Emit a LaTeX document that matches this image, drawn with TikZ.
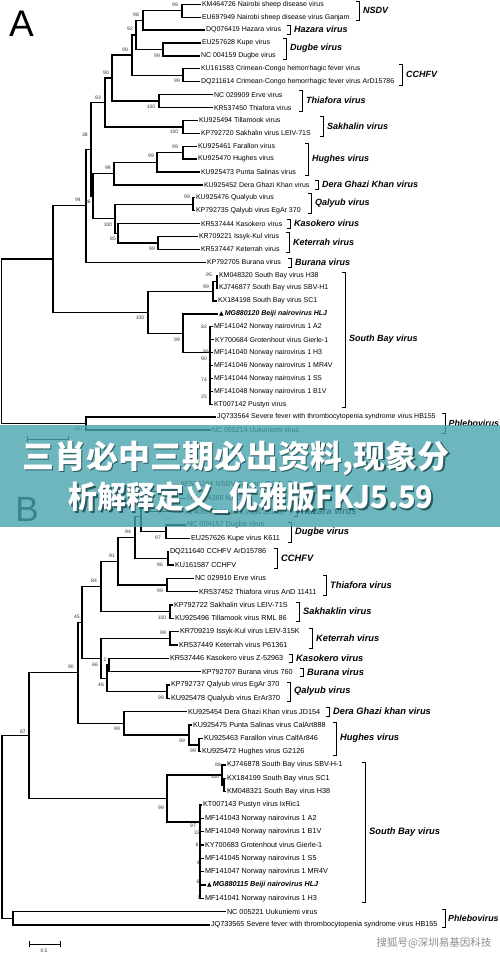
\documentclass[tikz,border=0pt]{standalone}
\usepackage{fontspec}
\setmainfont{Liberation Sans}
\newfontfamily\cjk{Noto Sans CJK SC}
\newfontfamily\symf{DejaVu Sans}
\definecolor{bannerc}{RGB}{72,164,174}
\tikzset{
 br/.style={line width=1.35pt},
 tip/.style={anchor=west,inner sep=1pt,outer sep=0pt,font=\fontsize{7}{8}\selectfont},
 tipb/.style={anchor=west,inner sep=1pt,outer sep=0pt,font=\fontsize{7.25}{8}\selectfont},
 bs/.style={inner sep=0pt,font=\fontsize{5}{6}\selectfont,text=black!80},
 cladelbl/.style={anchor=west,inner sep=0pt,font=\fontsize{9}{10}\selectfont\bfseries\itshape},
 brk/.style={line width=1pt},
}
\newcommand{\cladebr}[5]{%
 \draw[brk] ({#1-3},#2) -- (#1,#2) -- (#1,#3) -- ({#1-3},#3);
 \node[cladelbl] (#5) at ({#1+4},{(#2+#3)/2}) {#4};}
\begin{document}
\begin{tikzpicture}[x=1pt,y=-1pt]
\useasboundingbox (0,0) rectangle (500,954);
% ---------------- Panel A ----------------
\node[font=\fontsize{37}{40}\selectfont,inner sep=0pt] (letA) at (21.5,23.5) {A};
\foreach \i/\x/\t in {
0/201/KM464726 Nairobi sheep disease virus,
1/201/EU697949 Nairobi sheep disease virus Ganjam,
2/205/DQ076419 Hazara virus,
3/201/EU257628 Kupe virus,
4/200/NC 004159 Dugbe virus,
5/200/KU161583 Crimean-Congo hemorrhagic fever virus,
6/200/DQ211614 Crimean-Congo hemorrhagic fever virus ArD15786,
7/213/NC 029909 Erve virus,
8/213/KR537450 Thiafora virus,
9/198/KU925494 Tillamook virus,
10/200/KP792720 Sakhalin virus LEIV-71S,
11/197/KU925461 Farallon virus,
12/197/KU925470 Hughes virus,
13/200/KU925473 Punta Salinas virus,
14/203/KU925452 Dera Ghazi Khan virus,
15/195/KU925476 Qualyub virus,
16/195/KP792735 Qalyub virus EgAr 370,
17/200/KR537444 Kasokero virus,
18/198/KR709221 Issyk-Kul virus,
19/200/KR537447 Keterrah virus,
20/206/KP792705 Burana virus,
21/218/KM048320 South Bay virus H38,
22/218/KJ746877 South Bay virus SBV-H1,
23/217/KX184198 South Bay virus SC1,
25/213/MF141042 Norway nairovirus 1 A2,
26/214/KY700684 Grotenhout virus Gierle-1,
27/213/MF141040 Norway nairovirus 1 H3,
28/213/MF141046 Norway nairovirus 1 MR4V,
29/213/MF141044 Norway nairovirus 1 S5,
30/213/MF141048 Norway nairovirus 1 B1V,
31/213/KT007142 Pustyn virus,
32/216/JQ733564 Severe fever with thrombocytopenia syndrome virus HB155,
33/211/NC 005214 Uukuniemi virus}
{\node[tip] (a\i) at (\x,{4.3+12.9*\i}) {\t};}
\node[tip] (a24) at (218,{4.3+12.9*24}) {{\symf\fontsize{6}{7}\selectfont ▲}\,\bfseries\itshape MG880120 Beiji nairovirus HLJ};
% internal nodes A
\coordinate (a01) at (182,10.75);
\coordinate (a012) at (143,20.4);
\coordinate (a34) at (163,49.45);
\coordinate (a92) at (136,34.9);
\coordinate (a56) at (183,75.25);
\coordinate (a99b) at (132,55.1);
\coordinate (a78) at (159,101.05);
\coordinate (a90) at (112,78.1);
\coordinate (a910) at (183,126.85);
\coordinate (a93) at (105,102.5);
\coordinate (a1112) at (183,152.65);
\coordinate (a1113) at (157,162.3);
\coordinate (a1114) at (114,173.6);
\coordinate (a1516) at (193,204.25);
\coordinate (a1819) at (158,242.95);
\coordinate (a85) at (118,233.3);
\coordinate (a100) at (115,218.8);
\coordinate (a36) at (93,196.2);
\coordinate (a38) at (91,149.35);
\coordinate (a94) at (86,205.8);
\coordinate (a2122) at (217,281.65);
\coordinate (a2123) at (213,291.3);
\coordinate (aNor) at (210,352.6);
\coordinate (a2431) at (183,333.25);
\coordinate (aSB) at (148,312.3);
\coordinate (aIn) at (53,259.05);
\coordinate (aPh) at (86,423.55);
\coordinate (aR) at (1.5,341.3);
\foreach \p/\c in {a01/a0.west,a01/a1.west,a012/a01,a012/a2.west,a34/a3.west,a34/a4.west,
 a92/a012,a92/a34,a56/a5.west,a56/a6.west,a99b/a92,a99b/a56,a78/a7.west,a78/a8.west,
 a90/a99b,a90/a78,a910/a9.west,a910/a10.west,a93/a90,a93/a910,a1112/a11.west,a1112/a12.west,
 a1113/a1112,a1113/a13.west,a1114/a1113,a1114/a14.west,a1516/a15.west,a1516/a16.west,
 a1819/a18.west,a1819/a19.west,a85/a17.west,a85/a1819,a100/a1516,a100/a85,a36/a1114,a36/a100,
 a38/a93,a38/a36,a94/a38,a94/a20.west,a2122/a21.west,a2122/a22.west,a2123/a2122,a2123/a23.west,
 aNor/a25.west,aNor/a26.west,aNor/a27.west,aNor/a28.west,aNor/a29.west,aNor/a30.west,aNor/a31.west,
 a2431/a24.west,a2431/aNor,aSB/a2123,aSB/a2431,aIn/a94,aIn/aSB,aPh/a32.west,aPh/a33.west,aR/aIn,aR/aPh}
{\draw[br] (\p) |- (\c);}
\foreach \x/\y/\t [count=\k] in {175/5/99,136/15/98,130/29/92,157/56/99,125/50/99,177/81/99,106/73/90,
 151/107/100,98/98/93,174/132/100,85/135/38,175/147/99,151/156/99,108/168/99,78/200/94,88/202/36,
 187/197/99,108/225/100,113/239/85,152/249/99,209/275/95,206/287/99,140/318/100,177/340/99,
 204/327/82,206/352/86,204/359/90,204/380/74,204/397/25,78/429/100}
{\node[bs] (bsA\k) at (\x,\y) {\t};}
% clade brackets A
\cladebr{359}{1}{20}{NSDV}{cA1}
\cladebr{290}{25}{34}{Hazara virus}{cA2}
\cladebr{286}{38}{59}{Dugbe virus}{cA3}
\cladebr{402}{64}{85}{CCHFV}{cA4}
\cladebr{302}{90}{111}{Thiafora virus}{cA5}
\cladebr{323}{116}{136}{Sakhalin virus}{cA6}
\cladebr{308}{143}{175}{Hughes virus}{cA7}
\cladebr{318}{180}{189}{Dera Ghazi Khan virus}{cA8}
\cladebr{311}{193}{213}{Qalyub virus}{cA9}
\cladebr{290}{219}{228}{Kasokero virus}{cA10}
\cladebr{289}{232}{252}{Keterrah virus}{cA11}
\cladebr{291}{258}{267}{Burana virus}{cA12}
\cladebr{345}{272}{407}{South Bay virus}{cA13}
\draw[brk] (442,413) -- (445,413) -- (445,433) -- (442,433);
\node[cladelbl,font=\fontsize{8.8}{10}\selectfont\bfseries\itshape] (cA14) at (448.5,423) {Phlebovirus};
% scale bar A
\coordinate (sA1) at (27,439); \coordinate (sA2) at (68,439);
\draw[line width=1pt] (sA1) -- (sA2);
\draw[line width=1pt] ([yshift=3pt]sA1) -- ([yshift=-3pt]sA1) ([yshift=3pt]sA2) -- ([yshift=-3pt]sA2);
\node[bs] (sAl) at (47,446) {0.1};
% ---------------- Panel B ----------------
\node[font=\fontsize{35}{38}\selectfont,inner sep=0pt] (letB) at (27,509.5) {B};
\foreach \i/\x/\t in {
0/179/AF504294 NSDV Ganjam G619,
1/186/NC 004386 NSDV,
2/184/AY406725 Hazara virus JC280,
3/186/NC 004157 Dugbe virus,
4/190/EU257626 Kupe virus K611,
5/169/DQ211640 CCHFV ArD15786,
6/174/KU161587 CCHFV,
7/194/NC 029910 Erve virus,
8/198/KR537452 Thiafora virus AnD 11411,
9/173/KP792722 Sakhalin virus LEIV-71S,
10/174/KU925496 Tillamook virus RML 86,
11/179/KR709219 Issyk-Kul virus LEIV-315K,
12/178/KR537449 Keterrah virus P61361,
13/169/KR537446 Kasokero virus Z-52963,
14/201/KP792707 Burana virus 760,
15/170/KP792737 Qalyub virus EgAr 370,
16/170/KU925478 Qualyub virus ErAr370,
17/187/KU925454 Dera Ghazi Khan virus JD154,
18/192/KU925475 Punta Salinas virus CalArt888,
19/203/KU925463 Farallon virus CalfAr846,
20/201/KU925472 Hughes virus G2126,
21/226/KJ746878 South Bay virus SBV-H-1,
22/226/KX184199 South Bay virus SC1,
23/226/KM048321 South Bay virus H38,
24/202/KT007143 Pustyn virus IxRic1,
25/204/MF141043 Norway nairovirus 1 A2,
26/204/MF141049 Norway nairovirus 1 B1V,
27/204/KY700683 Grotenhout virus Gierle-1,
28/204/MF141045 Norway nairovirus 1 S5,
29/204/MF141047 Norway nairovirus 1 MR4V,
31/204/MF141041 Norway nairovirus 1 H3,
32/226/NC 005221 Uukuniemi virus,
33/210/JQ733565 Severe fever with thrombocytopenia syndrome virus HB155}
{\node[tipb] (b\i) at (\x,{485+13.33*\i}) {\t};}
\node[tipb] (b30) at (206,{485+13.33*30}) {{\symf\fontsize{6}{7}\selectfont ▲}\,\bfseries\itshape MG880115 Beiji nairovirus HLJ};
\coordinate (b01) at (170,491.65);
\coordinate (b012) at (150,501.7);
\coordinate (b34) at (166,531.65);
\coordinate (b04) at (141,516.7);
\coordinate (b56) at (168,558.35);
\coordinate (b06) at (135,537.5);
\coordinate (b78) at (167,584.95);
\coordinate (b08) at (118,561.2);
\coordinate (b910) at (170,611.65);
\coordinate (b010) at (101,586.4);
\coordinate (b1112) at (170,638.3);
\coordinate (b1314) at (109,665);
\coordinate (b1516) at (167,691.65);
\coordinate (b1316) at (107,678.3);
\coordinate (b1116) at (101,658.3);
\coordinate (b016) at (82,622.35);
\coordinate (b1920) at (199,744.95);
\coordinate (b1820) at (189,734.98);
\coordinate (b1720) at (124,723.3);
\coordinate (b020) at (78,672.8);
\coordinate (b2223) at (224,784.95);
\coordinate (b2123) at (222,775);
\coordinate (bNor) at (200,822);
\coordinate (bSB) at (167,798.5);
\coordinate (bIn) at (29,735.65);
\coordinate (bPh) at (13,918.25);
\coordinate (bR) at (2,826.95);
\foreach \p/\c in {b01/b0.west,b01/b1.west,b012/b01,b012/b2.west,b34/b3.west,b34/b4.west,
 b04/b012,b04/b34,b56/b5.west,b56/b6.west,b06/b04,b06/b56,b78/b7.west,b78/b8.west,
 b08/b06,b08/b78,b910/b9.west,b910/b10.west,b010/b08,b010/b910,b1112/b11.west,b1112/b12.west,
 b1314/b13.west,b1314/b14.west,b1516/b15.west,b1516/b16.west,b1316/b1314,b1316/b1516,
 b1116/b1112,b1116/b1316,b016/b010,b016/b1116,b1920/b19.west,b1920/b20.west,b1820/b18.west,b1820/b1920,
 b1720/b17.west,b1720/b1820,b020/b016,b020/b1720,b2223/b22.west,b2223/b23.west,b2123/b21.west,b2123/b2223,
 bNor/b24.west,bNor/b25.west,bNor/b26.west,bNor/b27.west,bNor/b28.west,bNor/b29.west,bNor/b30.west,bNor/b31.west,
 bSB/b2123,bSB/bNor,bIn/b020,bIn/bSB,bPh/b32.west,bPh/b33.west,bR/bIn,bR/bPh}
{\draw[br] (\p) |- (\c);}
\foreach \x/\y/\t [count=\k] in {158/538/97,160/565/96,128/532/94,112/556/91,160/591/99,94/581/84,
 162/618/100,77/617/45,163/633/99,95/665/66,105/660/2,101/685/46,161/698/99,71/667/90,117/729/99,
 182/741/99,193/751/99,23/732/87,218/765/88,215/777/100,161/808/99,193/826/97,197/833/32,
 197/845/8,198/863/4,198/882/6,199/898/5}
{\node[bs] (bsB\k) at (\x,\y) {\t};}
\tikzset{cladelbl/.append style={font=\fontsize{9.3}{10}\selectfont\bfseries\itshape}}
\cladebr{291}{481}{502}{NSDV}{cB1}
\cladebr{297}{507}{516}{Hazara virus}{cB2}
\cladebr{291}{522}{542}{Dugbe virus}{cB3}
\cladebr{277}{548}{568}{CCHFV}{cB4}
\cladebr{326}{575}{595}{Thiafora virus}{cB5}
\cladebr{299}{602}{621}{Sakhaklin virus}{cB6}
\cladebr{312}{628}{648}{Keterrah virus}{cB7}
\cladebr{292}{654}{662}{Kasokero virus}{cB8}
\cladebr{303}{668}{676}{Burana virus}{cB9}
\cladebr{290}{682}{701}{Qalyub virus}{cB10}
\cladebr{329}{707}{716}{Dera Ghazi khan virus}{cB11}
\cladebr{336}{722}{755}{Hughes virus}{cB12}
\cladebr{365}{762}{902}{South Bay virus}{cB13}
\draw[brk] (442,909) -- (445,909) -- (445,927) -- (442,927);
\node[cladelbl,font=\fontsize{8.8}{10}\selectfont\bfseries\itshape] (cB14) at (448,918) {Phlebovirus};
% scale bar B
\coordinate (sB1) at (29,944); \coordinate (sB2) at (60,944);
\draw[line width=1pt] (sB1) -- (sB2);
\draw[line width=1pt] ([yshift=3pt]sB1) -- ([yshift=-3pt]sB1) ([yshift=3pt]sB2) -- ([yshift=-3pt]sB2);
\node[bs] (sBl) at (44,951) {0.5};
% ---------------- overlay banner and watermark ----------------
\fill[bannerc,opacity=0.8] (0,425) rectangle (500,527);
\node[text=bannerc!55!black,inner sep=0pt,font=\cjk\bfseries\fontsize{32}{34}\selectfont] (ban1s) at (237.5,459.5) {三肖必中三期必出资料,现象分};
\node[text=white,inner sep=0pt,font=\cjk\bfseries\fontsize{32}{34}\selectfont] (ban1) at (236,458) {三肖必中三期必出资料,现象分};
\node[text=bannerc!55!black,inner sep=0pt,xscale=0.93,font=\cjk\bfseries\fontsize{31}{34}\selectfont] (ban2s) at (252.5,499.5) {析解释定义\_优雅版FKJ5.59};
\node[text=white,inner sep=0pt,xscale=0.93,font=\cjk\bfseries\fontsize{31}{34}\selectfont] (ban2) at (251,498) {析解释定义\_优雅版FKJ5.59};
\node[text=black!45,inner sep=0pt,font=\cjk\fontsize{10.5}{12}\selectfont] (wm) at (434,943) {搜狐号@深圳易基因科技};
\end{tikzpicture}
\end{document}
